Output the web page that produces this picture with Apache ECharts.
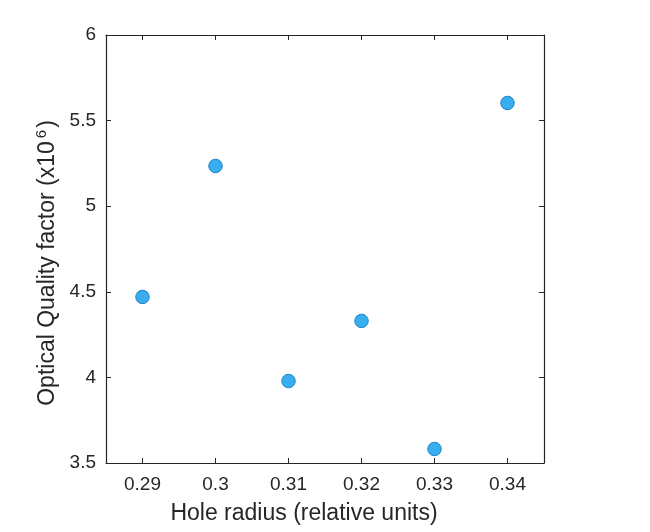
<!DOCTYPE html>
<html>
<head>
<meta charset="utf-8">
<script src="https://cdn.jsdelivr.net/npm/echarts@6/dist/echarts.min.js"></script>
<style>
html, body { margin: 0; padding: 0; background: #fff; }
#chart { width: 650px; height: 532px; }
</style>
</head>
<body>
<div id="chart"></div>
<script>
// hole radius vs optical Q (x10^6)
var holeRadius = [0.29, 0.30, 0.31, 0.32, 0.33, 0.34];
var qFactor = [4.47, 5.235, 3.979, 4.33, 3.582, 5.603];
var xTicks = [0.29, 0.30, 0.31, 0.32, 0.33, 0.34];

var points = holeRadius.map(function (x, i) { return [x, qFactor[i]]; });
var font = 'Liberation Sans, Arial, sans-serif';
var axisCol = '#262626';

var chart = echarts.init(document.getElementById('chart'));
var option = {
    animation: false,
    grid: { left: 106, right: 106, top: 35, bottom: 69, containLabel: false },
    xAxis: [{
        type: 'value', min: 0.285, max: 0.345,
        position: 'bottom',
        name: 'Hole radius (relative units)',
        nameLocation: 'middle', nameGap: 39,
        nameTextStyle: { fontFamily: font, fontSize: 23, color: axisCol, padding: [0, 42, 0, 0] },
        axisLine: { show: true, lineStyle: { color: axisCol, width: 1.2 } },
        axisTick: { show: true, inside: true, length: 5, customValues: xTicks, lineStyle: { color: axisCol } },
        splitLine: { show: false },
        axisLabel: {
            fontFamily: font, fontSize: 19, color: axisCol, margin: 12,
            customValues: xTicks,
            formatter: function (v) { return String(+v.toFixed(2)); }
        }
    }, {
        type: 'value', min: 0.285, max: 0.345,
        position: 'top',
        axisLine: { show: true, lineStyle: { color: axisCol, width: 1.2 } },
        axisTick: { show: true, inside: true, length: 5, customValues: xTicks, lineStyle: { color: axisCol } },
        axisLabel: { show: false },
        splitLine: { show: false }
    }],
    yAxis: [{
        type: 'value', min: 3.5, max: 6, interval: 0.5,
        position: 'left',
        name: 'Optical Quality factor (x10{sup|6})',
        nameLocation: 'middle', nameGap: 46,
        nameTextStyle: {
            fontFamily: font, fontSize: 23, color: axisCol, padding: [0, 28, 0, 0],
            rich: { sup: { fontFamily: font, fontSize: 15, color: axisCol, verticalAlign: 'top', padding: [0, 2, 10, 3] } }
        },
        axisLine: { show: true, lineStyle: { color: axisCol, width: 1.2 } },
        axisTick: { show: true, inside: true, length: 5, lineStyle: { color: axisCol } },
        axisLabel: { fontFamily: font, fontSize: 19, color: axisCol, margin: 10 },
        splitLine: { show: false }
    }, {
        type: 'value', min: 3.5, max: 6, interval: 0.5,
        position: 'right',
        axisLine: { show: true, lineStyle: { color: axisCol, width: 1.2 } },
        axisTick: { show: true, inside: true, length: 5, lineStyle: { color: axisCol } },
        axisLabel: { show: false },
        splitLine: { show: false }
    }],
    series: [{
        type: 'scatter',
        xAxisIndex: 0, yAxisIndex: 0,
        symbol: 'circle',
        symbolSize: 13.5,
        itemStyle: { color: '#38adef', borderColor: '#1c82c8', borderWidth: 1, opacity: 1 },
        data: points
    }]
};
chart.setOption(option);
</script>
</body>
</html>
